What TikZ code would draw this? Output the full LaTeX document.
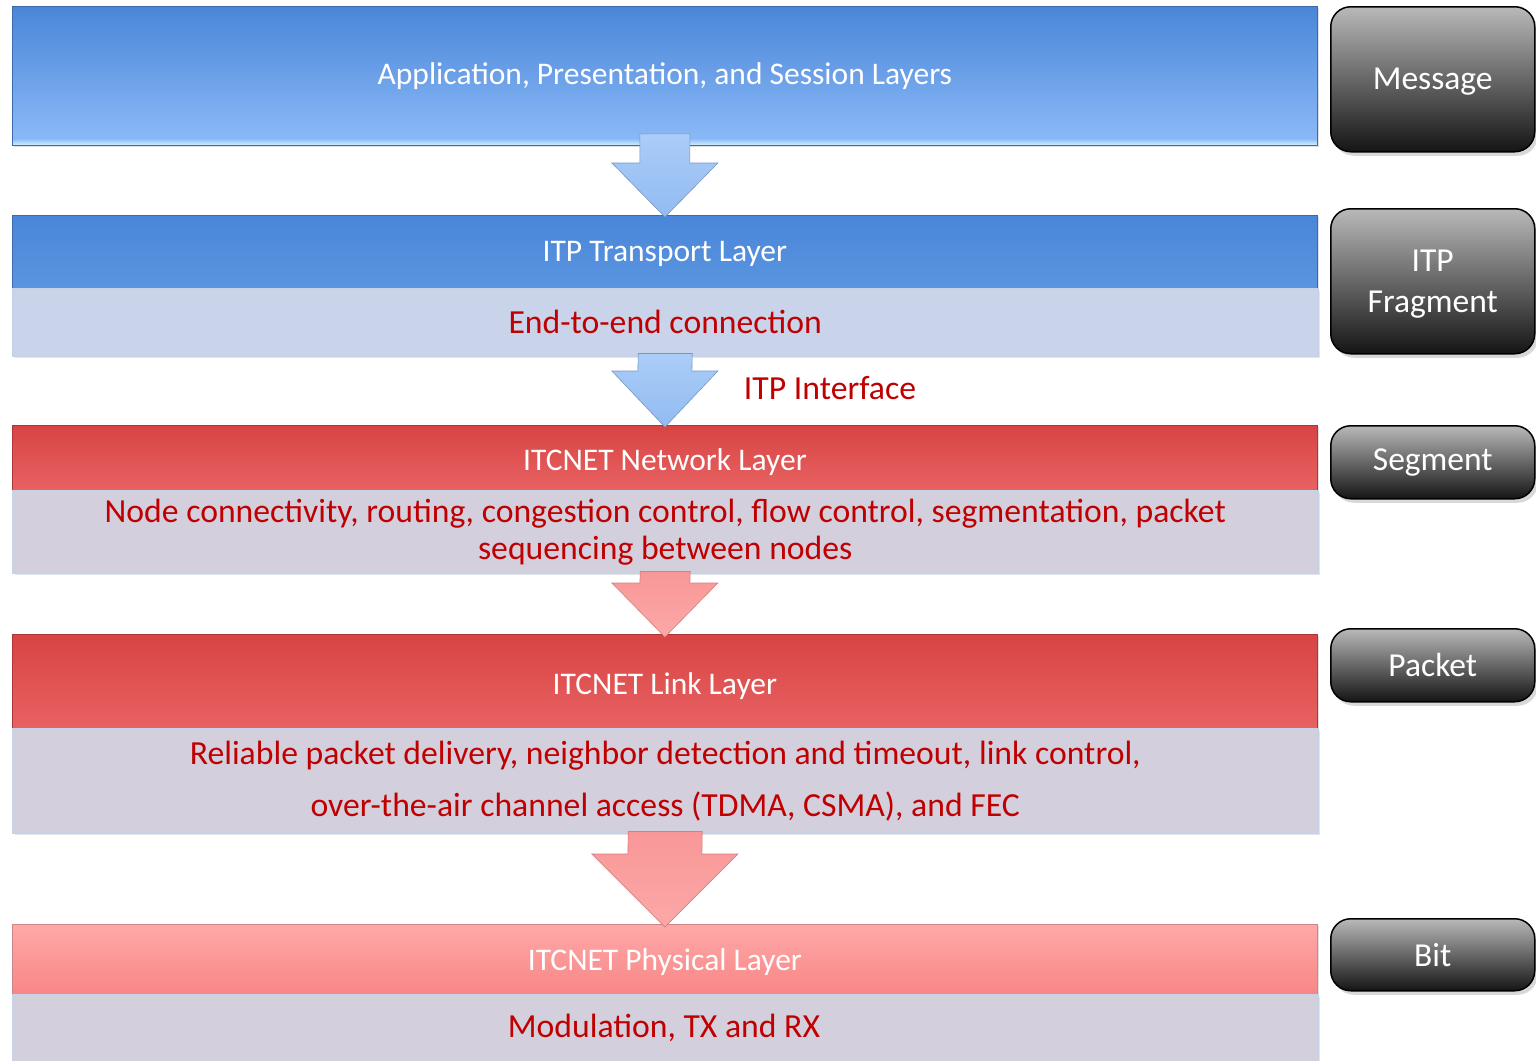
\documentclass[tikz,border=0pt]{standalone}
\usepackage{fontspec}
\setmainfont{Carlito}
\usetikzlibrary{calc,shadows}
\definecolor{blueTop}{HTML}{4A86D8}
\definecolor{blueBot}{HTML}{8DBBF8}
\definecolor{blueHdrBot}{HTML}{5A95E0}
\definecolor{redTop}{HTML}{D84444}
\definecolor{redBot}{HTML}{E86262}
\definecolor{pinkTop}{HTML}{FFA8A8}
\definecolor{pinkBot}{HTML}{F88686}
\definecolor{bodyBlue}{HTML}{C9D4EA}
\definecolor{bodyLilac}{HTML}{D4CFDD}
\definecolor{bodyEdge}{HTML}{C6D2E6}
\definecolor{txtRed}{HTML}{C00000}
\definecolor{bevel}{HTML}{CDEBFF}
\definecolor{arrBlueTop}{HTML}{AACDF8}
\definecolor{arrBlueBot}{HTML}{93BBF2}
\definecolor{arrPinkTop}{HTML}{F99797}
\definecolor{arrPinkBot}{HTML}{FCA8A8}
\tikzset{
  hdr/.style={anchor=north west, minimum width=1305pt, inner sep=0pt, text=white,
    font=\fontsize{31.5}{36}\selectfont, draw=#1!80!black, line width=0.8pt,
    drop shadow={opacity=0.25, shadow xshift=2pt, shadow yshift=-2pt}},
  toff/.style={text height=#1, text depth=0pt},
  bodybox/.style={anchor=north west, minimum width=1305pt, inner sep=0pt, text=txtRed,
    align=center, fill=#1, draw=bodyEdge, line width=1.5pt,
    drop shadow={opacity=0.2, shadow xshift=2pt, shadow yshift=-2pt}},
  unitbox/.style={anchor=north west, minimum width=204pt, inner sep=0pt, text=white,
    align=center, rounded corners=20pt, top color=gray!55, bottom color=black!92,
    draw=black, line width=1.5pt, font=\fontsize{33.5}{41}\selectfont,
    drop shadow={opacity=0.3, shadow xshift=3pt, shadow yshift=-4pt}},
  barrow/.style={top color=arrBlueTop, bottom color=arrBlueBot, draw=arrBlueBot!80!black, line width=0.6pt, line join=miter},
  parrow/.style={top color=arrPinkTop, bottom color=arrPinkBot, draw=arrPinkTop!85!black, line width=0.6pt, line join=miter}
}
\begin{document}
\begin{tikzpicture}[x=1pt,y=-1pt]
\useasboundingbox (0,0) rectangle (1536,1060);
\fill[white] (0,0) rectangle (1536,1060);

% Layer 1
\node[hdr=blueTop, minimum height=139pt, top color=blueTop, bottom color=blueBot, toff=17pt] (app) at (12,6) {Application, Presentation, and Session Layers};
\shade[top color=blueBot, bottom color=bevel] ($(app.south west)+(1,-7)$) rectangle ($(app.south east)+(-1,-1)$);

% Layer 2
\node[hdr=blueTop, minimum height=73pt, top color=blueTop, bottom color=blueHdrBot, toff=19pt] (tph) at (12,215) {ITP Transport Layer};
\node[bodybox=bodyBlue, minimum height=67pt, font=\fontsize{33.7}{37}\selectfont] (tpb) at (12,288) {End-to-end connection};

% Layer 3
\node[hdr=redTop, minimum height=65pt, top color=redTop, bottom color=redBot, toff=26pt] (neth) at (12,425) {ITCNET Network Layer};
\node[bodybox=bodyLilac, minimum height=82pt, font=\fontsize{33.7}{37}\selectfont] (netb) at (12,490) {Node connectivity, routing, congestion control, flow control, segmentation, packet\\sequencing between nodes};

% Layer 4
\node[hdr=redTop, minimum height=94pt, top color=redTop, bottom color=redBot, toff=27pt] (lnkh) at (12,634) {ITCNET Link Layer};
\node[bodybox=bodyLilac, minimum height=104pt, font=\fontsize{33.7}{52}\selectfont] (lnkb) at (12,728) {Reliable packet delivery, neighbor detection and timeout, link control,\\over-the-air channel access (TDMA, CSMA), and FEC};

% Layer 5
\node[hdr=pinkTop, minimum height=70pt, top color=pinkTop, bottom color=pinkBot, toff=22pt] (phyh) at (12,924) {ITCNET Physical Layer};
\node[bodybox=bodyLilac, minimum height=70pt] (phyb) at (12,994) {};
\node[text=txtRed, font=\fontsize{33.7}{37}\selectfont, anchor=base] (phyt) at (664,1037) {Modulation, TX and RX};

% Interface label
\node[text=txtRed, font=\fontsize{33.7}{37}\selectfont, anchor=base] (itf) at (830,399) {ITP Interface};

% Block arrows
\draw[barrow] ($(app.south)+(-25,-12)$) -- ($(app.south)+(25,-12)$) -- ($(tph.north)+(25,-52)$) -- ($(tph.north)+(53,-52)$) -- ($(tph.north)+(0,2)$) -- ($(tph.north)+(-53,-52)$) -- ($(tph.north)+(-25,-52)$) -- cycle;
\draw[barrow] ($(tpb.south)+(-27,-3)$) -- ($(tpb.south)+(27,-3)$) -- ($(neth.north)+(27,-54)$) -- ($(neth.north)+(53,-54)$) -- ($(neth.north)+(0,2)$) -- ($(neth.north)+(-53,-54)$) -- ($(neth.north)+(-27,-54)$) -- cycle;
\draw[parrow] ($(netb.south)+(-25,-2)$) -- ($(netb.south)+(25,-2)$) -- ($(lnkh.north)+(25,-51)$) -- ($(lnkh.north)+(53,-51)$) -- ($(lnkh.north)+(0,3)$) -- ($(lnkh.north)+(-53,-51)$) -- ($(lnkh.north)+(-25,-51)$) -- cycle;
\draw[parrow] ($(lnkb.south)+(-37,-2)$) -- ($(lnkb.south)+(37,-2)$) -- ($(phyh.north)+(37,-70)$) -- ($(phyh.north)+(73,-70)$) -- ($(phyh.north)+(0,3)$) -- ($(phyh.north)+(-73,-70)$) -- ($(phyh.north)+(-37,-70)$) -- cycle;

% Unit boxes
\node[unitbox, minimum height=145pt, toff=21pt] (msg) at (1330,6) {Message};
\node[unitbox, minimum height=145pt, text depth=0pt] (frag) at (1330,208) {ITP\\Fragment};
\node[unitbox, minimum height=73pt] (seg) at (1330,425) {Segment};
\node[unitbox, minimum height=73pt] (pkt) at (1330,628) {Packet};
\node[unitbox, minimum height=72pt] (bit) at (1330,918) {Bit};
\end{tikzpicture}
\end{document}
